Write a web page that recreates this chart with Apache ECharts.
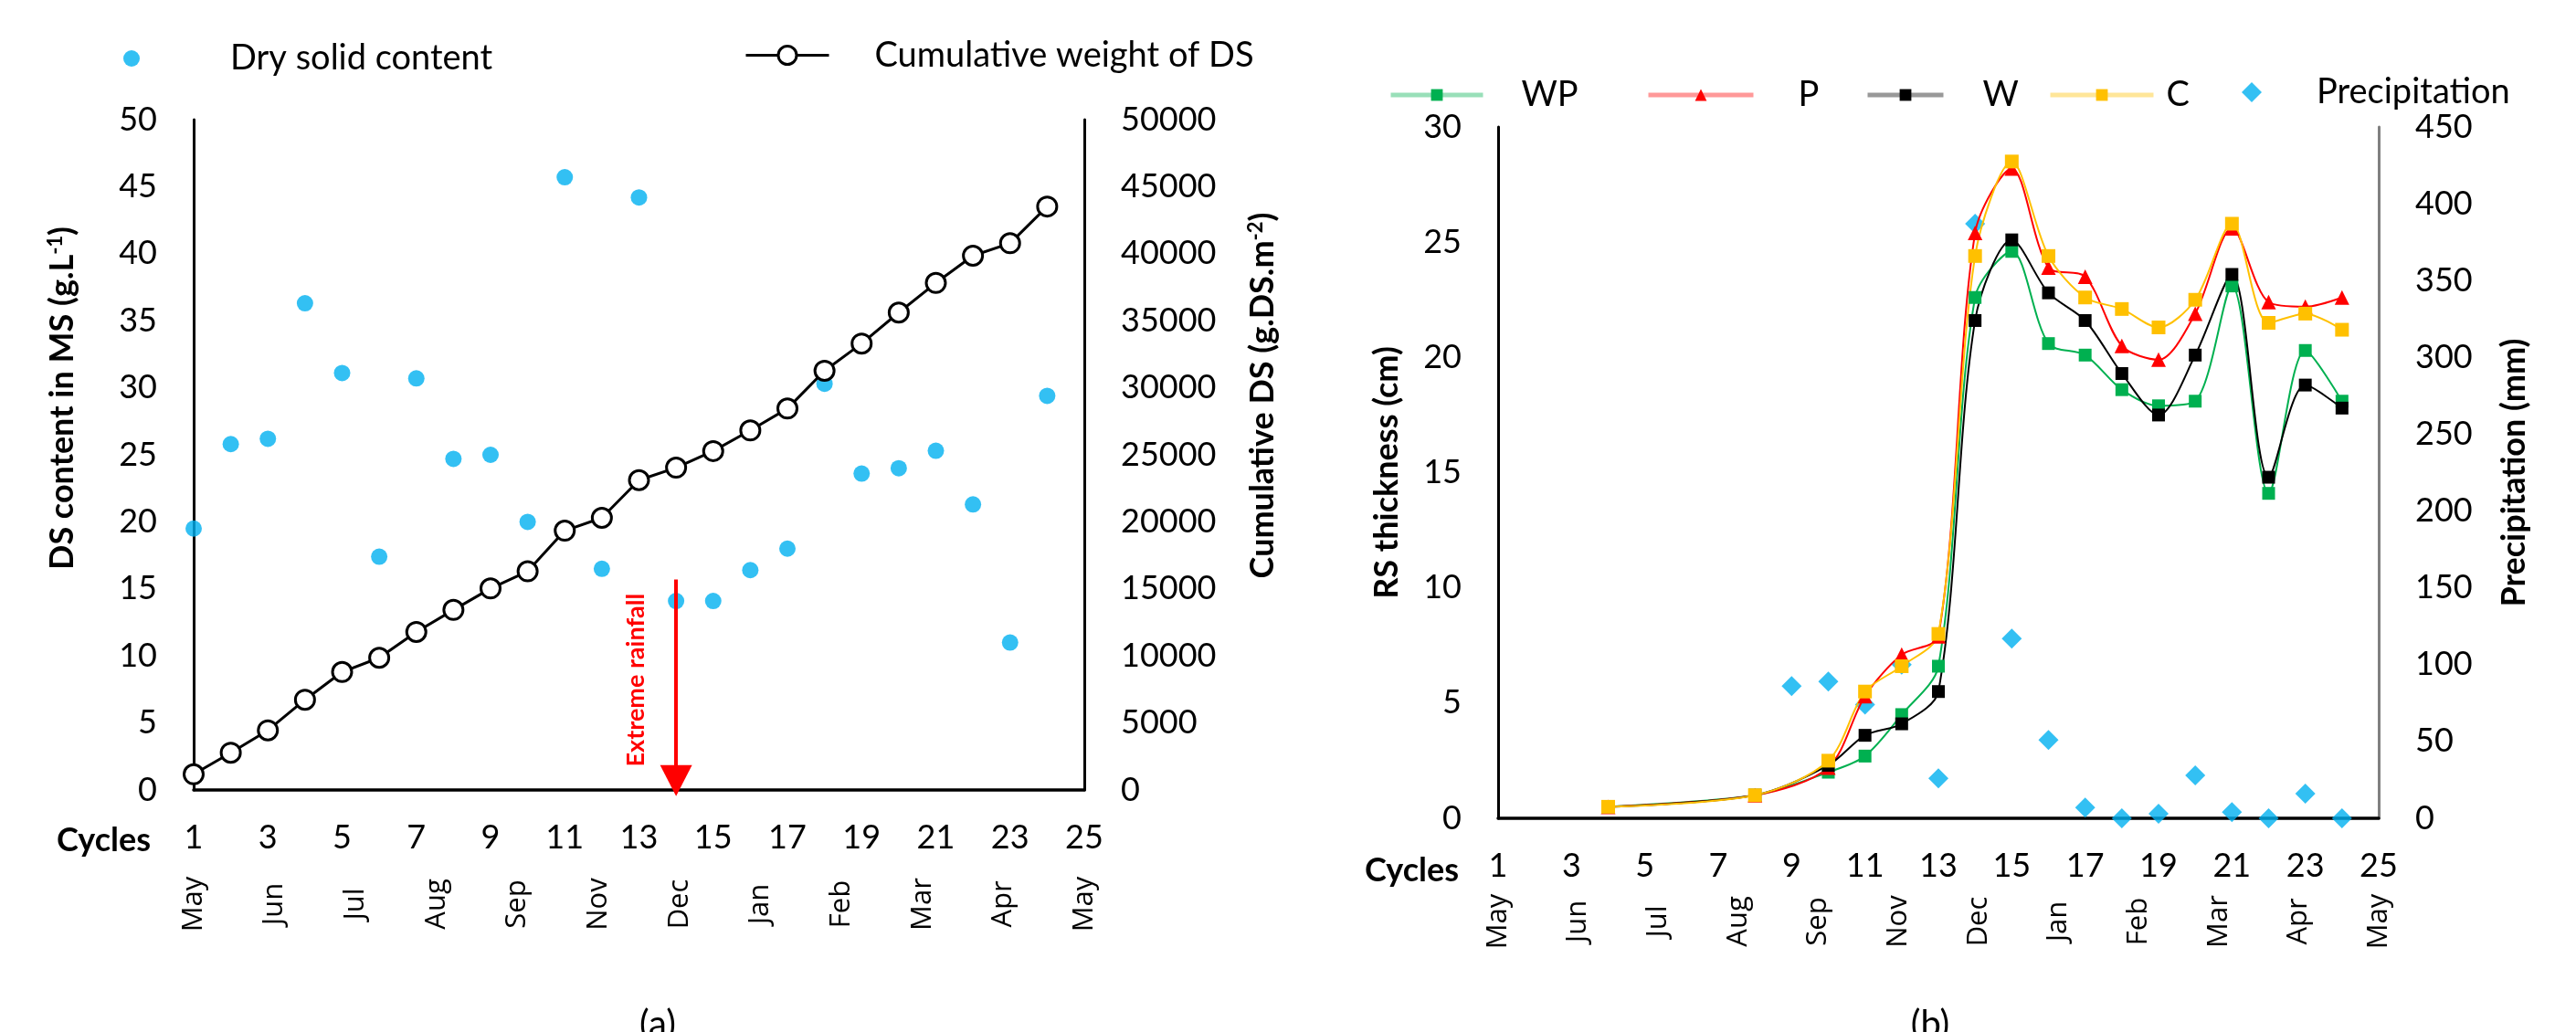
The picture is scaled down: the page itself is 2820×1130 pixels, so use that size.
<!DOCTYPE html>
<html><head><meta charset="utf-8">
<script src="https://cdn.jsdelivr.net/npm/echarts@6/dist/echarts.min.js"></script>
<style>html,body{margin:0;padding:0;background:#fff}#c{width:2820px;height:1130px}</style>
</head><body><div id="c"></div>
<script>
// ---------- data ----------
const cycleLabels = ['1','2','3','4','5','6','7','8','9','10','11','12','13','14','15','16','17','18','19','20','21','22','23','24','25'];
const monthLabels = ['May','Jun','Jul','Aug','Sep','Nov','Dec','Jan','Feb','Mar','Apr','May'];

const dsCycles = [1,2,3,4,5,6,7,8,9,10,11,12,13,14,15,16,17,18,19,20,21,22,23,24];
const drySolidContent = [19.5,25.8,26.2,36.3,31.1,17.4,30.7,24.7,25.0,20.0,45.7,16.5,44.2,14.1,14.1,16.4,18.0,30.3,23.6,24.0,25.3,21.3,11.0,29.4];
const cumulativeDS = [1170,2780,4450,6730,8800,9860,11790,13430,15030,16310,19340,20300,23110,24040,25280,26820,28450,31270,33300,35610,37820,39850,40780,43520];
const extremeRainfallCycle = '14';

const rsCycles = [4,8,10,11,12,13,14,15,16,17,18,19,20,21,22,23,24];
const wpThickness = [0.5,1.0,2.0,2.7,4.5,6.6,22.6,24.6,20.6,20.1,18.6,17.9,18.1,23.1,14.1,20.3,18.1];
const pThickness  = [0.5,1.0,2.2,5.3,7.1,7.9,25.4,28.2,23.9,23.5,20.5,19.9,21.9,25.6,22.4,22.2,22.6];
const wThickness  = [0.5,1.0,2.3,3.6,4.1,5.5,21.6,25.1,22.8,21.6,19.3,17.5,20.1,23.6,14.8,18.8,17.8];
const cThickness  = [0.5,1.0,2.5,5.5,6.6,8.0,24.4,28.5,24.4,22.6,22.1,21.3,22.5,25.8,21.5,21.9,21.2];

const precipCycles = [9,10,11,12,13,14,15,16,17,18,19,20,21,22,23,24];
const precipitation = [86,89,74,100,26,387,117,51,7,0,3,28,4,0,16,0];

// ---------- helpers ----------
const pairs = (xs, ys) => xs.map((x, i) => [String(x), ys[i]]);
const NUM = {fontFamily: 'Lato', fontSize: 36, color: '#000'};
const MON = {fontFamily: 'Open Sans', fontSize: 31, color: '#000'};
const TITLE = {fontFamily: 'Lato', fontSize: 36, fontWeight: 'bold', color: '#000'};
const LEG = {fontFamily: 'Lato', fontSize: 38, color: '#000'};

function cycleAxis(grid) {
  return {
    type: 'category', gridIndex: grid, data: cycleLabels, boundaryGap: false, position: 'bottom',
    axisLine: {show: true, lineStyle: {color: '#000', width: 3.5}},
    axisTick: {show: false}, splitLine: {show: false},
    axisLabel: Object.assign({interval: 1, margin: 34}, NUM)
  };
}
function monthAxis(grid, margin) {
  return {
    type: 'value', gridIndex: grid, min: 0, max: 11, interval: 1, position: 'bottom',
    axisLine: {show: false}, axisTick: {show: false}, splitLine: {show: false},
    axisLabel: Object.assign({rotate: 90, align: 'center', verticalAlign: 'middle', margin: margin,
      formatter: v => monthLabels[v] || ''}, MON)
  };
}
function yAx(grid, pos, max, interval, name, gap, padLeft, lineColor) {
  return {
    type: 'value', gridIndex: grid, position: pos, min: 0, max: max, interval: interval,
    axisLine: {show: true, lineStyle: {color: lineColor, width: 3}},
    axisTick: {show: false}, splitLine: {show: false},
    axisLabel: Object.assign({margin: 40, formatter: v => String(v)}, NUM),
    name: name, nameLocation: 'middle', nameGap: gap,
    nameTextStyle: Object.assign({padding: [0, 0, 0, padLeft],
      rich: {sup: {fontFamily: 'Lato', fontSize: 22, fontWeight: 'bold', color: '#000', verticalAlign: 'top'}}}, TITLE)
  };
}
function legend(name, left, top, w, h, pad, extra) {
  return {
    data: [Object.assign({name: name}, extra || {})],
    left: left, top: top, itemWidth: w, itemHeight: h, selectedMode: false,
    padding: 0, textStyle: Object.assign({padding: [0, 0, 0, pad]}, LEG)
  };
}
function rsLine(name, data, color, symbol, size) {
  return {
    type: 'line', name: name, xAxisIndex: 2, yAxisIndex: 2, data: pairs(rsCycles, data),
    smooth: 0.3, symbol: symbol, symbolSize: size,
    lineStyle: {color: color, width: 2}, itemStyle: {color: color}
  };
}
function label(text, x, y, style) {
  return {type: 'text', x: x, y: y, silent: true,
    style: Object.assign({text: text, fill: '#000'}, style)};
}

const chart = echarts.init(document.getElementById('c'), null, {renderer: 'canvas'});
chart.setOption({
  animation: false,
  backgroundColor: '#fff',
  grid: [
    {left: 212, top: 131, width: 975, height: 734},
    {left: 1640, top: 139, width: 964, height: 757}
  ],
  xAxis: [
    cycleAxis(0),
    monthAxis(0, 125),
    cycleAxis(1),
    monthAxis(1, 113)
  ],
  yAxis: [
    yAx(0, 'left', 50, 5, 'DS content in MS (g.L{sup|-1})', 126, 124, '#000'),
    yAx(0, 'right', 50000, 5000, 'Cumulative DS (g.DS.m{sup|-2})', 177, 130, '#000'),
    yAx(1, 'left', 30, 5, 'RS thickness (cm)', 104, 0, '#000'),
    yAx(1, 'right', 450, 50, 'Precipitation (mm)', 130, 0, '#808080')
  ],
  legend: [
    legend('Dry solid content', 135, 45, 18, 18, 94),
    legend('Cumulative weight of DS', 815, 41.5, 91, 25, 45,
      {itemStyle: {color: '#fff', borderColor: '#000', borderWidth: 3}, lineStyle: {color: '#000', width: 3}}),
    legend('WP', 1520, 85, 101, 16, 37, {lineStyle: {width: 5, opacity: 0.4}}),
    legend('P', 1802, 85, 115, 16, 44, {lineStyle: {width: 5, opacity: 0.4}}),
    legend('W', 2042, 85, 83, 16, 38, {lineStyle: {width: 5, opacity: 0.4}}),
    legend('C', 2242, 85, 113, 16, 9, {lineStyle: {width: 5, opacity: 0.4}}),
    legend('Precipitation', 2454, 82, 22, 22, 55)
  ],
  series: [
    {
      type: 'scatter', name: 'Dry solid content', xAxisIndex: 0, yAxisIndex: 0,
      data: pairs(dsCycles, drySolidContent), symbol: 'circle', symbolSize: 18,
      itemStyle: {color: '#00B0F0'},
      markLine: {
        silent: true, animation: false,
        symbol: ['triangle', 'none'], symbolSize: [35, 34],
        lineStyle: {color: '#FF0000', width: 4, type: 'solid'},
        label: {show: true, position: 'insideMiddleTop', formatter: 'Extreme rainfall', distance: 30,
          color: '#FF0000', fontFamily: 'Lato', fontWeight: 'bold', fontSize: 27},
        data: [[{coord: [extremeRainfallCycle, 0.7]}, {coord: [extremeRainfallCycle, 15.7]}]]
      }
    },
    {
      type: 'line', name: 'Cumulative weight of DS', xAxisIndex: 0, yAxisIndex: 1,
      data: pairs(dsCycles, cumulativeDS), symbol: 'circle', symbolSize: 21,
      lineStyle: {color: '#000', width: 3},
      itemStyle: {color: '#fff', borderColor: '#000', borderWidth: 3}
    },
    rsLine('WP', wpThickness, '#00B050', 'rect', 14),
    rsLine('P', pThickness, '#FF0000', 'triangle', 16),
    rsLine('W', wThickness, '#000000', 'rect', 14),
    rsLine('C', cThickness, '#FFC000', 'rect', 15),
    {
      type: 'scatter', name: 'Precipitation', xAxisIndex: 2, yAxisIndex: 3,
      data: pairs(precipCycles, precipitation), symbol: 'diamond', symbolSize: 22,
      itemStyle: {color: '#00B0F0'}
    }
  ],
  graphic: [
    label('Cycles', 165, 920, {align: 'right', verticalAlign: 'middle', fontFamily: 'Lato', fontSize: 36, fontWeight: 'bold'}),
    label('Cycles', 1597, 953, {align: 'right', verticalAlign: 'middle', fontFamily: 'Lato', fontSize: 36, fontWeight: 'bold'}),
    label('(a)', 720, 1102, {align: 'center', verticalAlign: 'top', fontFamily: 'Lato', fontSize: 40}),
    label('(b)', 2113, 1102, {align: 'center', verticalAlign: 'top', fontFamily: 'Lato', fontSize: 40})
  ]
});
</script>
</body></html>
